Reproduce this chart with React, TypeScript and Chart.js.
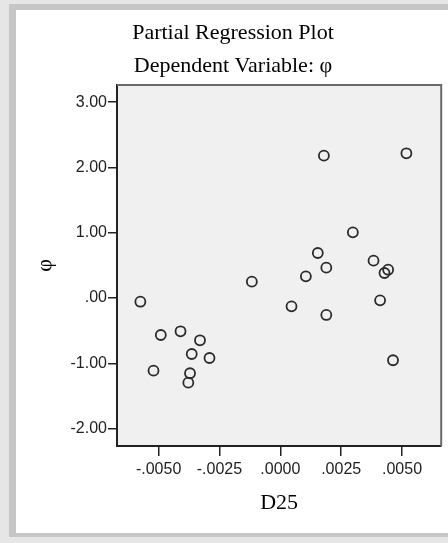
import React, { useEffect, useRef } from "react";
import { Chart, registerables } from "chart.js";

Chart.register(...registerables);

// ---- Data ----
const xValues = [
  -0.00575, -0.00491, -0.0041, -0.0033, -0.00364, -0.00291, -0.00521, -0.00371, -0.00378,
  -0.00117, 0.00046, 0.00105, 0.00154, 0.00189, 0.00189, 0.00179, 0.00298, 0.00383,
  0.00443, 0.00428, 0.0041, 0.00463, 0.00518,
];
const yValues = [
  -0.057, -0.567, -0.51, -0.648, -0.858, -0.919, -1.113, -1.153, -1.297,
  0.25, -0.128, 0.332, 0.689, 0.464, -0.26, 2.18, 1.006, 0.571,
  0.433, 0.383, -0.036, -0.954, 2.216,
];
const xTicks = [-0.005, -0.0025, 0, 0.0025, 0.005];
const yTicks = [-2, -1, 0, 1, 2, 3];
const xRange = [-0.00671, 0.00661];
const yRange = [-2.267, 3.262];
const titleLines = ["Partial Regression Plot", "Dependent Variable: φ"];
const xLabel = "D25";
const yLabel = "φ";

const SERIF = "'Liberation Serif', 'Times New Roman', serif";
const SANS = "'Liberation Sans', Arial, sans-serif";

const fmt = (v: number, d: number) => {
  const n = Math.abs(v) < 1e-12 ? 0 : v;
  return n.toFixed(d).replace(/^(-?)0\./, "$1.");
};

const framePlugin = {
  id: "frame",
  beforeDraw(chart: any) {
    const { ctx, width, height, chartArea: a } = chart;
    ctx.save();
    ctx.fillStyle = "#e6e6e6";
    ctx.fillRect(0, 0, width, height);
    ctx.fillStyle = "#c6c6c6";
    ctx.fillRect(9, 4, width - 9, 533);
    ctx.fillStyle = "#ffffff";
    ctx.fillRect(16, 10, width - 16, 523);
    ctx.fillStyle = "#f0f0f0";
    ctx.fillRect(a.left, a.top, a.right - a.left, a.bottom - a.top);
    ctx.restore();
  },
  afterDraw(chart: any) {
    const { ctx, chartArea: a } = chart;
    ctx.save();
    ctx.strokeStyle = "#6a6a6a";
    ctx.lineWidth = 2;
    ctx.beginPath();
    ctx.moveTo(a.left, a.top);
    ctx.lineTo(a.right, a.top);
    ctx.lineTo(a.right, a.bottom);
    ctx.stroke();
    ctx.restore();
  },
};

export default function App() {
  const canvasRef = useRef<HTMLCanvasElement | null>(null);

  useEffect(() => {
    if (!canvasRef.current) return;
    const points = xValues.map((x, i) => ({ x, y: yValues[i] }));
    const chart = new Chart(canvasRef.current, {
      type: "scatter",
      data: {
        datasets: [
          {
            data: points,
            showLine: false,
            pointRadius: 5,
            pointBorderWidth: 1.8,
            borderColor: "#2b2b2b",
            backgroundColor: "rgba(0,0,0,0)",
            pointHoverRadius: 5,
          },
        ],
      },
      options: {
        animation: false,
        responsive: false,
        devicePixelRatio: 1,
        layout: { padding: { top: 10, left: 20, right: 2, bottom: 0 } },
        plugins: {
          legend: { display: false },
          tooltip: { enabled: false },
          title: {
            display: true,
            text: titleLines,
            color: "#000",
            font: { family: SERIF, size: 22, weight: "normal", lineHeight: 1.5 },
            padding: { top: 6.5, bottom: 2.5 },
          },
        },
        scales: {
          x: {
            type: "linear",
            position: "bottom",
            min: xRange[0],
            max: xRange[1],
            afterBuildTicks: (s: any) => {
              s.ticks = xTicks.map((v) => ({ value: v }));
            },
            afterFit: (s: any) => {
              s.height = 97;
            },
            ticks: {
              autoSkip: false,
              maxRotation: 0,
              padding: 4,
              color: "#222",
              font: { family: SANS, size: 16 },
              callback: (v: any) => fmt(Number(v), 4),
            },
            grid: {
              drawOnChartArea: false,
              drawTicks: true,
              tickLength: 10,
              color: "#222",
              lineWidth: 1.5,
            },
            border: { display: true, color: "#222", width: 2 },
            title: {
              display: true,
              text: xLabel,
              color: "#000",
              font: { family: SERIF, size: 22, lineHeight: 1.2 },
              padding: { top: 0, bottom: 27 },
            },
          },
          y: {
            type: "linear",
            position: "left",
            min: yRange[0],
            max: yRange[1],
            afterBuildTicks: (s: any) => {
              s.ticks = yTicks.map((v) => ({ value: v }));
            },
            afterFit: (s: any) => {
              s.width = 97;
            },
            ticks: {
              autoSkip: false,
              padding: 1,
              color: "#222",
              font: { family: SANS, size: 16 },
              callback: (v: any) => fmt(Number(v), 2),
            },
            grid: {
              drawOnChartArea: false,
              drawTicks: true,
              tickLength: 9,
              color: "#222",
              lineWidth: 1.5,
            },
            border: { display: true, color: "#222", width: 2 },
            title: {
              display: true,
              text: yLabel,
              color: "#000",
              font: { family: SERIF, size: 22, lineHeight: 1.2 },
              padding: { top: 12, bottom: 0 },
            },
          },
        },
      },
      plugins: [framePlugin],
    });
    return () => chart.destroy();
  }, []);

  return (
    <div style={{ position: "fixed", left: 0, top: 0, width: 448, height: 543 }}>
      <canvas ref={canvasRef} width={448} height={543} style={{ display: "block" }} />
    </div>
  );
}
